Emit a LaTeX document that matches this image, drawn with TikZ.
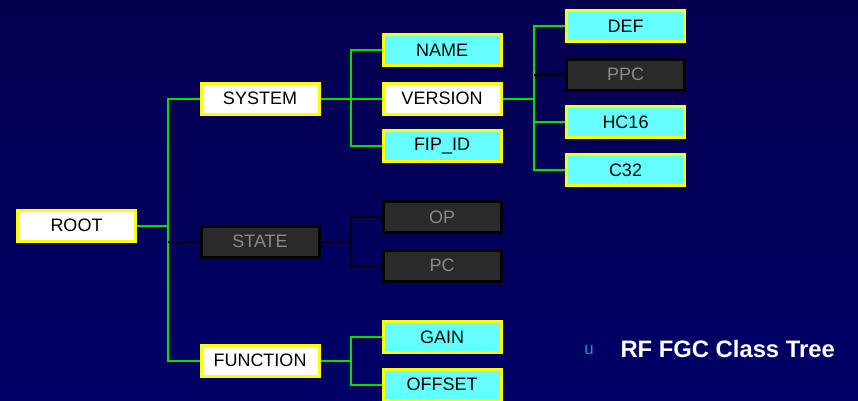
\documentclass[tikz,border=0pt]{standalone}
\usepackage{fontspec}
\setmainfont{Liberation Sans}
\newfontfamily\bulletfont{Liberation Mono}
\definecolor{bgtop}{RGB}{4,0,80}
\definecolor{bgbot}{RGB}{1,0,102}
\definecolor{boxcyan}{RGB}{102,255,255}
\definecolor{boxdark}{RGB}{42,42,42}
\definecolor{txtgray}{RGB}{138,138,138}
\definecolor{linegreen}{RGB}{0,224,0}
\definecolor{boxyellow}{RGB}{255,255,0}
\definecolor{bullcyan}{RGB}{0,160,190}
\tikzset{
  classbox/.style={draw=boxyellow, line width=3pt, minimum width=118pt, minimum height=31pt,
    inner sep=0pt, font=\fontsize{18}{20}\selectfont, text=black},
  whitebox/.style={classbox, fill=white},
  cyanbox/.style={classbox, fill=boxcyan},
  darkbox/.style={classbox, draw=black, fill=boxdark, text=txtgray},
  gline/.style={linegreen, line width=2pt},
  kline/.style={black, line width=2pt}
}
\begin{document}
\begin{tikzpicture}[x=1pt, y=-1pt]

\useasboundingbox (0,0) rectangle (858,400);
\shade[top color=bgtop, bottom color=bgbot] (0,0) rectangle (858,400);
\clip (0,0) rectangle (858,400);

% level 0 and 1
\node[whitebox] (root) at (76.5,225.5) {ROOT};
\node[whitebox] (system) at (260,98.5) {SYSTEM};
\node[darkbox] (state) at (260,241.5) {STATE};
\node[whitebox] (function) at (260,360.5) {FUNCTION};

% level 2
\node[cyanbox] (name) at (442,50) {NAME};
\node[whitebox] (version) at (442,98.5) {VERSION};
\node[cyanbox] (fipid) at (442,146) {FIP\_ID};
\node[darkbox] (op) at (442,217) {OP};
\node[darkbox] (pc) at (442,265.5) {PC};
\node[cyanbox] (gain) at (442,337) {GAIN};
\node[cyanbox] (offset) at (442,384.5) {OFFSET};

% level 3
\node[cyanbox] (def) at (625.5,26) {DEF};
\node[darkbox] (ppc) at (625.5,74.5) {PPC};
\node[cyanbox] (hc16) at (625.5,122) {HC16};
\node[cyanbox] (c32) at (625.5,170) {C32};

% buses
\coordinate (rootbus) at (168,0);
\coordinate (sysbus) at (351,0);
\coordinate (verbus) at (534,0);

\draw[gline] (root.east) -- (rootbus |- root.east);
\draw[gline] (system.west) -| (rootbus |- function.west) -- (function.west);
\draw[kline] (rootbus |- state.west) -- (state.west);

\draw[gline] (system.east) -- (version.west);
\draw[gline] (name.west) -| (sysbus |- fipid.west) -- (fipid.west);

\draw[kline] (state.east) -- (sysbus |- state.east);
\draw[kline] (op.west) -| (sysbus |- pc.west) -- (pc.west);

\draw[gline] (function.east) -- (sysbus |- function.east);
\draw[gline] (gain.west) -| (sysbus |- offset.west) -- (offset.west);

\draw[gline] (version.east) -- (verbus |- version.east);
\draw[gline] (def.west) -| (verbus |- c32.west) -- (c32.west);
\draw[gline] (verbus |- hc16.west) -- (hc16.west);
\draw[kline] (verbus |- ppc.west) -- (ppc.west);

% title
\node[text=bullcyan, font=\bulletfont\fontsize{17}{19}\selectfont] (bullet) at (589,350) {u};
\node[anchor=west, text=white, font=\bfseries\fontsize{23.8}{26}\selectfont] (title) at (617,349) {RF FGC Class Tree};

\end{tikzpicture}
\end{document}
